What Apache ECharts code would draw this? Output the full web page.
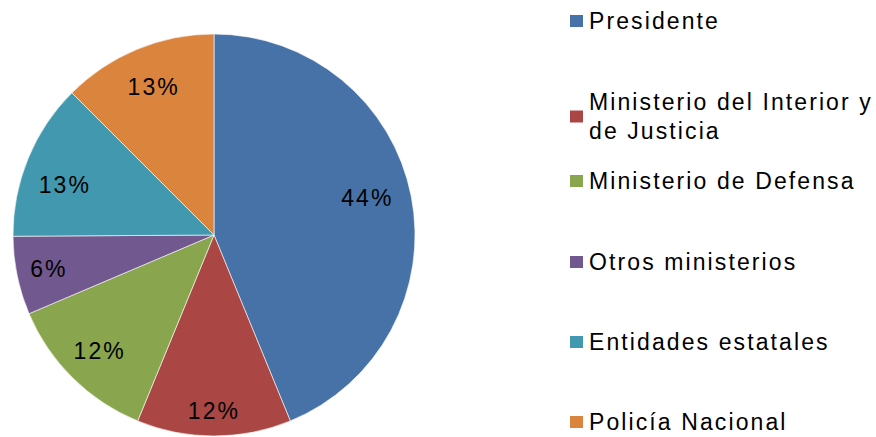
<!DOCTYPE html>
<html>
<head>
<meta charset="utf-8">
<script src="https://cdn.jsdelivr.net/npm/echarts@6/dist/echarts.min.js"></script>
<style>
  html, body { margin: 0; padding: 0; background: #fff; }
  #chart { width: 876px; height: 437px; }
  #chart text { letter-spacing: 2.1px; }
</style>
</head>
<body>
<div id="chart"></div>
<script>
(function(){
  'use strict';
  var categories = ['Presidente', 'Ministerio del Interior y de Justicia', 'Ministerio de Defensa',
    'Otros ministerios', 'Entidades estatales', 'Policía Nacional'];
  // percentages; labels show them rounded
  var shares = [43.8, 12.4, 12.4, 6.3, 12.6, 12.5];
  var colors = ['#4672A8', '#AA4744', '#89A54E', '#71588F', '#4298AF', '#DB843D'];
  var legendTops = [6.5, 87.5, 166.5, 247.5, 327.5, 407.5];
  // small nudges so labels land where the original placed them
  var labelOffsets = [[-9, -5], [0, 10], [2, -2], [-3, 0], [4, 13], [3, 5]];

  var font = "'Liberation Sans', Arial, sans-serif";
  var data = categories.map(function(name, i){
    return { name: name, value: shares[i], itemStyle: { color: colors[i] } };
  });

  var legends = categories.map(function(name, i){
    return {
      data: [name],
      orient: 'vertical',
      left: 568,
      top: legendTops[i],
      padding: 0,
      itemWidth: 15,
      itemHeight: 14,
      icon: 'rect',
      selectedMode: false,
      formatter: function(n){ return n === 'Ministerio del Interior y de Justicia' ? 'Ministerio del Interior y\nde Justicia' : n; },
      textStyle: { fontFamily: font, fontSize: 23, lineHeight: 29, color: '#000' }
    };
  });

  var chart = echarts.init(document.getElementById('chart'), null, { renderer: 'svg' });
  chart.setOption({
    animation: false,
    legend: legends,
    series: [{
      type: 'pie',
      center: [214, 235],
      radius: [0, 201],
      startAngle: 90,
      clockwise: true,
      silent: true,
      data: data,
      label: { show: false },
      labelLine: { show: false },
      itemStyle: { borderColor: '#fff', borderWidth: 0.6 }
    }, {
      // transparent ring so the labels sit at ~0.8 of the radius
      type: 'pie',
      center: [214, 235],
      radius: [124, 201],
      startAngle: 90,
      clockwise: true,
      silent: true,
      data: shares.map(function(v, i){
        return { name: categories[i], value: v, label: { offset: labelOffsets[i] } };
      }),
      itemStyle: { color: 'rgba(0,0,0,0)' },
      labelLine: { show: false },
      label: {
        show: true,
        position: 'inside',
        formatter: function(p){ return Math.round(p.value) + '%'; },
        fontFamily: font,
        fontSize: 23,
        color: '#000'
      }
    }]
  });
})();
</script>
</body>
</html>
